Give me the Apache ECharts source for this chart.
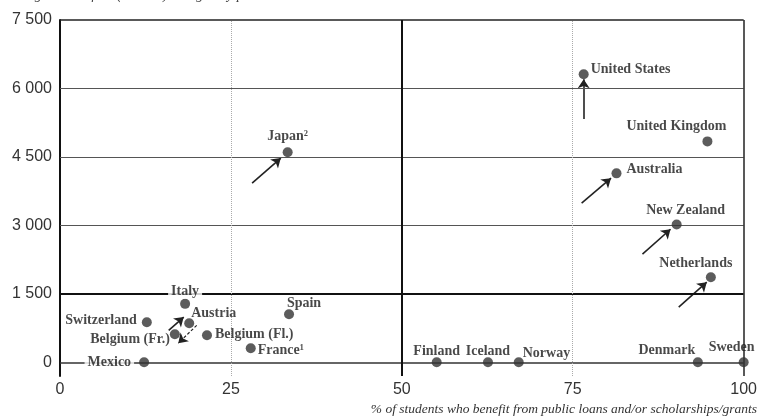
<!DOCTYPE html>
<html>
<head>
<meta charset="utf-8">
<script src="https://cdn.jsdelivr.net/npm/echarts@6/dist/echarts.min.js"></script>
<style>
html,body{margin:0;padding:0;background:#fff;}
#chart{width:760px;height:419px;}
</style>
</head>
<body>
<div id="chart"></div>
<script>
// ---- Data ----
const countries = ["United States","United Kingdom","Australia","New Zealand","Netherlands","Japan²","Italy","Switzerland","Austria","Belgium (Fr.)","Belgium (Fl.)","Spain","France¹","Mexico","Finland","Iceland","Norway","Denmark","Sweden"];
const pctStudents = [76.6, 94.7, 81.4, 90.2, 95.2, 33.3, 18.3, 12.7, 18.9, 16.8, 21.5, 33.5, 27.9, 12.3, 55.1, 62.6, 67.1, 93.3, 100];
const tuitionFees = [6312, 4840, 4140, 3019, 1863, 4602, 1281, 877, 855, 614, 592, 1053, 307, 0, 0, 0, 0, 0, 0];
// change arrows (from -> to), in data units
const arrowFrom = [[76.6,5330],[76.3,3490],[85.2,2370],[90.5,1210],[28.1,3925],[15.9,700],[20.0,810]];
const arrowTo   = [[76.6,6200],[80.6,4035],[89.3,2915],[94.6,1755],[32.3,4474],[18.1,990],[17.3,420]];
const arrowDashed = [false,false,false,false,false,false,true];
const yTicks = [0,1500,3000,4500,6000,7500];
const xTicks = [0,25,50,75,100];

// ---- label styles (layout only) ----
const labelStyle = {
  "United States":{position:"right",offset:[-3,-5]},
  "United Kingdom":{position:"top",offset:[-31,2]},
  "Australia":{position:"right",offset:[0,-4]},
  "New Zealand":{position:"top",offset:[9,3]},
  "Netherlands":{position:"top",offset:[-15,3]},
  "Japan²":{position:"top",offset:[0,1]},
  "Italy":{position:"top",offset:[0,5],bg:true},
  "Switzerland":{position:"left",offset:[0,-2]},
  "Austria":{position:"right",offset:[-8,-10]},
  "Belgium (Fr.)":{position:"left",offset:[5,5]},
  "Belgium (Fl.)":{position:"right",offset:[-2,-1]},
  "Spain":{position:"top",offset:[15,6]},
  "France¹":{position:"right",offset:[-3,2]},
  "Mexico":{position:"left",offset:[0,0],bg:true},
  "Finland":{position:"top",offset:[0,6]},
  "Iceland":{position:"top",offset:[0,6]},
  "Norway":{position:"right",offset:[-6,-9]},
  "Denmark":{position:"top",offset:[-31,5]},
  "Sweden":{position:"top",offset:[-12,2]}
};

const fmt = v => { const s = String(v); return s.length > 3 ? s.slice(0, s.length-3) + " " + s.slice(-3) : s; };

const points = countries.map((c,i) => {
  const st = labelStyle[c] || {position:"top",offset:[0,0]};
  const lab = {show:true, position:st.position, offset:st.offset};
  if (st.bg) { lab.backgroundColor = "#fff"; lab.padding = [0,3]; }
  return {name:c, value:[pctStudents[i], tuitionFees[i]], label:lab};
});

const arrows = arrowFrom.map((f,i) => ({
  coords:[f, arrowTo[i]],
  lineStyle:{type: arrowDashed[i] ? [3,2] : "solid", width: arrowDashed[i] ? 1.2 : 1.6}
}));

const hLines = yTicks.map(v => {
  let ls = {color:"#555", width:1, type:"solid"};
  if (v === 1500) ls = {color:"#111", width:2, type:"solid"};
  if (v === 7500) ls = {color:"#222", width:1.5, type:"solid"};
  if (v === 0) ls = {color:"#333", width:1.5, type:"solid"};
  return {yAxis:v, lineStyle:ls};
});
const vLines = xTicks.filter(v => v > 0).map(v => {
  let ls = {color:"#aaa", width:1, type:"dotted"};
  if (v === 50) ls = {color:"#111", width:2, type:"solid"};
  if (v === 100) ls = {color:"#222", width:1.5, type:"solid"};
  return {xAxis:v, lineStyle:ls};
});

const chart = echarts.init(document.getElementById('chart'), null, {renderer:'canvas'});
chart.setOption({
  animation:false,
  backgroundColor:"#fff",
  grid:{left:60, right:16, top:20, bottom:43, containLabel:false},
  xAxis:{
    type:"value", min:0, max:100, interval:25,
    axisLine:{show:false}, axisTick:{show:false}, splitLine:{show:false},
    axisLabel:{color:"#333", fontFamily:"Liberation Sans", fontSize:16, margin:6}
  },
  yAxis:{
    type:"value", min:-300, max:7500, interval:300,
    axisLine:{show:true, onZero:false, lineStyle:{color:"#111", width:2}},
    axisTick:{show:false}, splitLine:{show:false},
    axisLabel:{
      color:"#333", fontFamily:"Liberation Sans", fontSize:16, margin:8,
      formatter: v => (v >= 0 && v % 1500 === 0) ? fmt(v) : ""
    }
  },
  graphic:[
    {type:"text", left:2, top:-12, style:{text:"Average tuition fees (in USD) charged by public institutions", font:"italic 14px 'Liberation Serif'", fill:"#444"}},
    {type:"text", right:3, top:402, style:{text:"% of students who benefit from public loans and/or scholarships/grants", font:"italic 13.5px 'Liberation Serif'", fill:"#333"}}
  ],
  series:[
    {
      type:"line", data:[], silent:true,
      markLine:{symbol:["none","none"], silent:true, label:{show:false}, animation:false, data: hLines.concat(vLines)}
    },
    {
      type:"lines", coordinateSystem:"cartesian2d", silent:true, z:3,
      symbol:["none","arrow"], symbolSize:[0,9],
      lineStyle:{color:"#222", width:1.6, opacity:1, curveness:0},
      data: arrows
    },
    {
      type:"scatter", symbol:"circle", symbolSize:10, z:5,
      itemStyle:{color:"#333"},
      label:{show:true, formatter:"{b}", color:"#1a1a1a", fontFamily:"Liberation Serif", fontWeight:"bold", fontSize:14},
      data: points
    }
  ]
});
</script>
</body>
</html>
